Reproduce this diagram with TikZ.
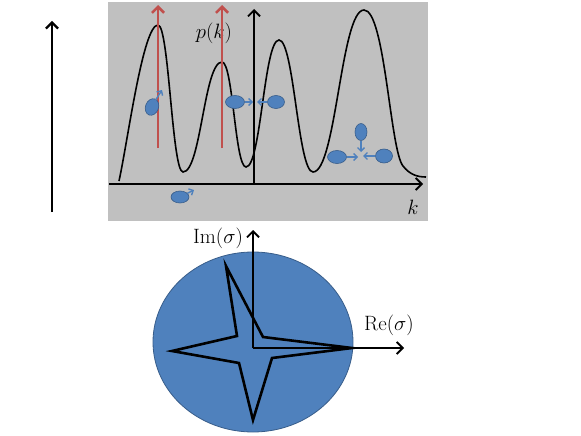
\documentclass[tikz,border=0pt]{standalone}
\usetikzlibrary{shapes.geometric,arrows.meta}
\definecolor{bgray}{HTML}{C0C0C0}
\definecolor{blobfill}{HTML}{4F81BD}
\definecolor{blobline}{HTML}{385D8A}
\definecolor{redarr}{HTML}{C0504D}
\begin{document}
\begin{tikzpicture}[x=1pt,y=-1pt,
  blob/.style={ellipse,fill=blobfill,draw=blobline,line width=0.6pt,inner sep=0pt},
  barrow/.style={-{Straight Barb[length=3.5pt,width=7pt]},draw=blobfill,line width=1.4pt},
  axis/.style={-{Straight Barb[length=6pt,width=12pt]},line width=1.8pt},
  lbl/.style={font=\huge}]
\useasboundingbox (0,0) rectangle (581,436);
\fill[bgray] (108,2) rectangle (428,221);
% left arrow
\coordinate (a0) at (52,212);
\coordinate (a1) at (52,21);
\draw [axis,line width=2.2pt] (a0) -- (a1);
% density curve
\draw [line width=1.6pt] (119,181) .. controls (128,140) and (143,25) .. (158,25)
  .. controls (169,25) and (172,172) .. (183,172)
  .. controls (201,172) and (204,62) .. (222,62)
  .. controls (233,62) and (235,167) .. (246,167)
  .. controls (261,167) and (264,40) .. (279,40)
  .. controls (294,40) and (298,172) .. (313,172)
  .. controls (336,172) and (341,10) .. (364,10)
  .. controls (385,10) and (390,150) .. (403,166)
  .. controls (410,175) and (418,177) .. (426,177);
% axes
\coordinate (o1) at (254,184);
\coordinate (x0) at (109,184);
\coordinate (x1) at (423,184);
\coordinate (y1) at (254,9);
\draw [axis] (x0) -- (x1);
\draw [axis] (o1) -- (y1);
\node [lbl] (pk) at (214,33) {$p(k)$};
\node [lbl] (kk) at (413,207) {$k$};
% red arrows
\coordinate (r0) at (158,148);
\coordinate (r1) at (158,5);
\coordinate (r2) at (222,148);
\coordinate (r3) at (222,5);
\draw [axis,draw=redarr,line width=2.6pt] (r0) -- (r1);
\draw [axis,draw=redarr,line width=2.6pt] (r2) -- (r3);
% blobs
\node [blob,minimum width=13pt,minimum height=17pt,rotate=-20] (b1) at (152,107) {};
\node [blob,minimum width=18pt,minimum height=12pt] (b2) at (180,197) {};
\node [blob,minimum width=19pt,minimum height=13pt] (b3) at (235,102) {};
\node [blob,minimum width=17pt,minimum height=13pt] (b4) at (276,102) {};
\node [blob,minimum width=12pt,minimum height=17pt] (b5) at (361,132) {};
\node [blob,minimum width=19pt,minimum height=13pt] (b6) at (337,157) {};
\node [blob,minimum width=17pt,minimum height=14pt] (b7) at (384,156) {};
\coordinate (t1) at (162,90);
\coordinate (t2) at (194,190);
\coordinate (t3) at (253,102);
\coordinate (t4) at (257,102);
\coordinate (t5) at (361,152);
\coordinate (t6) at (358,157);
\coordinate (t7) at (363,156);
\draw [barrow] (155,101) -- (t1);
\draw [barrow] (b2) -- (t2);
\draw [barrow] (b3) -- (t3);
\draw [barrow] (b4) -- (t4);
\draw [barrow] (b5) -- (t5);
\draw [barrow] (b6) -- (t6);
\draw [barrow] (b7) -- (t7);
% spectrum
\node [blob,line width=0.8pt,minimum width=200pt,minimum height=180pt] (disc) at (253,342) {};
\draw [line width=2.6pt,line join=miter] (226,266) -- (263,337) -- (352,348) -- (272,358) -- (253,420) -- (239,363) -- (172,351) -- (237,336) -- cycle;
\coordinate (o2) at (253,348);
\coordinate (re) at (404,348);
\coordinate (im) at (253,230);
\draw [axis] (o2) -- (re);
\draw [axis] (o2) -- (im);
\node [lbl] (iml) at (218,238) {$\mathrm{Im}(\sigma)$};
\node [lbl] (rel) at (389,325) {$\mathrm{Re}(\sigma)$};
\end{tikzpicture}
\end{document}
